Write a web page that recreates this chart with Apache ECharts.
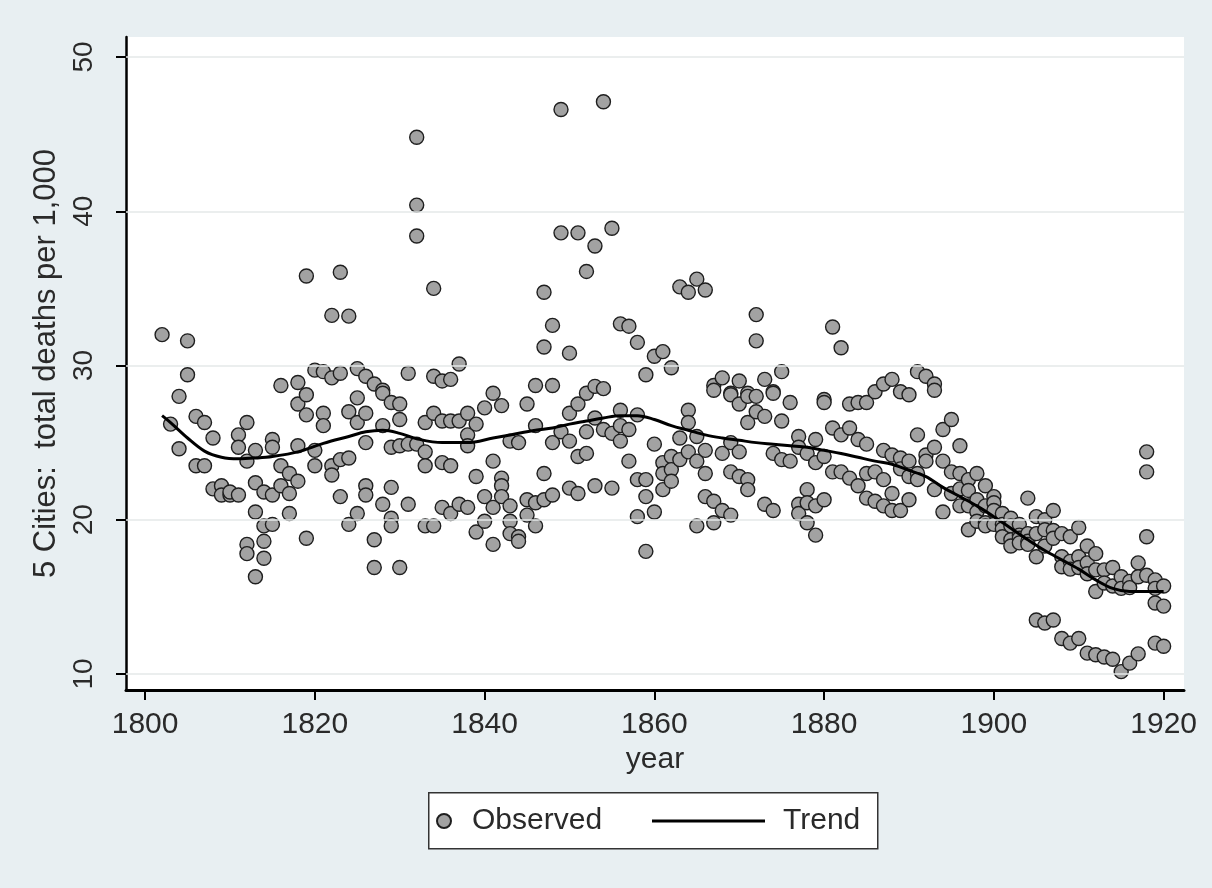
<!DOCTYPE html>
<html>
<head>
<meta charset="utf-8">
<script src="https://cdn.jsdelivr.net/npm/echarts@6/dist/echarts.min.js"></script>
<style>
  html, body { margin: 0; padding: 0; background: #e8eff2; }
  #chart { width: 1212px; height: 888px; }
</style>
</head>
<body>
<div id="chart"></div>
<script>
// ---- data ----
const obsYears = [
  1802,1803,1804,1805,1806,1807,1808,1809,1810,1811,1812,1813,1814,1815,1816,1817,1818,1819,1820,
  1821,1822,1823,1824,1825,1826,1827,1828,1829,1830,1831,1832,1833,1834,1835,1836,1837,1838,1839,1840,
  1841,1842,1843,1844,1845,1846,1847,1848,1849,1850,1851,1852,1853,1854,1855,1856,1857,1858,1859,1860,
  1861,1862,1863,1864,1865,1866,1867,1868,1869,1870,1871,1872,1873,1874,1875,1876,1877,1878,1879,1880,
  1881,1882,1883,1884,1885,1886,1887,1888,1889,1890,1891,1892,1893,1894,1895,1896,1897,1898,1899,1900,
  1901,1902,1903,1904,1905,1906,1907,1908,1909,1910,1911,1912,1913,1914,1915,1916,1917,1918,1919,1920
];
const obsValues = [
  [32.0],[26.2],[28.0,24.6],[31.6,29.4],[26.7,23.5],[26.3,23.5],[25.3,22.0],[22.2,21.6],[21.6,21.8],
  [25.5,24.7,21.6],[26.3,23.8,18.4,17.8],[24.5,22.4,20.5,16.3],[21.8,19.6,18.6,17.5],[25.2,24.7,21.6,19.7],
  [28.7,23.5,22.2],[23.0,21.7,20.4],[28.9,27.5,24.8,22.5],[35.8,28.1,26.8,18.8],[29.7,24.5,23.5],
  [29.6,26.9,26.1],[33.25,29.2,23.5,22.9],[36.05,29.5,23.9,21.5],[33.2,27.0,24.0,19.7],[29.8,27.9,26.3,20.4],
  [29.3,26.9,25.0,22.2,21.6],[28.8,18.7,16.9],[28.4,28.2,26.1,21.0],[27.6,24.7,22.1,20.1,19.6],[27.5,26.5,24.8,16.9],
  [29.5,24.9,21.0],[44.8,40.4,38.4,24.9],[26.3,24.4,23.5,19.6],[35.0,29.3,26.9,19.6],[29.0,26.4,23.7,20.8],
  [29.1,26.4,23.5,20.4],[30.1,26.4,21.0],[26.9,25.5,24.8,20.8],[26.2,22.8,19.2],[27.25,21.5,19.9],
  [28.2,23.8,20.8,18.4],[27.4,22.7,22.2,21.5],[25.1,20.9,19.9,19.1],[25.0,18.9,18.6],[27.5,21.3,20.3],
  [28.7,26.1,21.1,19.6],[34.75,31.2,23.0,21.3],[32.6,28.7,25.0,21.6],[46.6,38.6,25.7],[30.8,26.9,25.1,22.05],
  [38.6,27.5,24.1,21.7],[36.1,28.2,25.7,24.3],[37.75,28.65,26.6,22.2],[47.1,28.5,25.85],[38.9,25.6,22.05],
  [32.7,27.1,26.1,25.1],[32.55,25.85,23.8],[31.5,26.8,22.6,20.2],[29.4,22.6,21.5,17.95],[30.6,24.9,20.5],
  [30.9,23.7,23.0,21.95],[29.85,24.1,23.25,22.5],[35.1,25.3,23.9],[34.75,27.1,26.3,24.4],[35.6,25.4,23.8,19.6],
  [34.9,24.5,23.0,21.5],[28.7,28.4,21.2,19.8],[29.2,24.3,20.6],[28.2,28.1,25.0,23.1,20.3],[29.0,27.5,24.4,22.8],
  [28.2,28.0,26.3,22.6,21.95],[33.3,31.6,28.0,27.0],[29.1,26.7,21.0],[28.3,28.2,24.3,20.6],[29.6,26.4,23.9],
  [27.6,23.8],[25.4,24.7,21.0,20.4],[24.3,21.95,21.1,19.8],[25.2,23.7,20.9,19.0],[27.8,27.6,24.1,21.3],
  [32.5,25.95,23.1],[31.15,25.5,23.1],[27.5,25.95,22.7],[27.6,25.2,22.2],[27.6,24.9,23.0,21.4],
  [28.3,23.1,21.2],[28.8,24.5,22.6,20.9],[29.1,24.2,21.7,20.6],[28.3,24.0,23.3,20.6],[28.1,23.8,22.8,21.3],
  [29.6,25.5,23.0,22.6],[29.3,24.2,23.8],[28.8,28.4,24.7,21.95],[25.85,23.8,20.5],[26.5,23.1,21.7],
  [24.8,23.0,22.0,20.9],[22.6,21.9,20.9,19.35],[23.0,21.3,20.5,19.9],[22.2,20.9,19.8,19.6],[21.5,21.1,20.6,19.7],
  [20.4,19.7,19.4,18.9],[20.1,19.6,18.7,18.3],[19.7,19.0,18.8,18.5],[21.4,19.1,18.6,18.4],[20.2,19.1,17.6,13.5],
  [20.0,19.35,18.3,13.3],[20.6,19.3,18.8,13.5],[19.1,17.6,16.95,12.3],[18.9,17.3,16.8,12.0],[19.5,17.6,16.9,12.3],
  [18.3,17.2,16.5,11.35],[17.8,16.75,15.35,11.25],[16.75,15.9,11.1],[16.9,15.7,10.95],[16.3,15.55,10.15],
  [16.0,15.6,10.7],[17.2,16.3,11.3],[24.4,23.1,18.9,16.4],[16.1,15.55,14.6,12.0],[15.7,14.4,11.8]
];
const trendYears = [1802,1803,1805,1807,1809,1811,1813,1815,1818,1821,1824,1826,1828,1830,1832,1835,1838,1841,1843,1846,1848,1850,1852,1854,1856,1858,1860,1862,1864,1866,1868,1870,1872,1874,1876,1878,1880,1882,1884,1886,1888,1890,1892,1894,1896,1898,1900,1902,1904,1906,1908,1910,1912,1914,1916,1918,1920];
const trendValues = [26.75,26.3,25.3,24.45,24.05,23.95,24.0,24.1,24.4,24.95,25.4,25.7,25.8,25.6,25.25,25.0,25.0,25.3,25.5,25.8,25.95,26.2,26.4,26.6,26.75,26.75,26.5,26.1,25.8,25.5,25.3,25.15,25.0,24.9,24.8,24.7,24.5,24.3,24.05,23.8,23.6,23.2,22.8,22.1,21.5,20.9,20.2,19.45,18.7,18.0,17.4,16.8,16.1,15.55,15.35,15.35,15.35];
const xTicks = [1800, 1820, 1840, 1860, 1880, 1900, 1920];
const yTicks = [10, 20, 30, 40, 50];

// ---- build series data ----
const scatterData = [];
obsYears.forEach((yr, i) => obsValues[i].forEach(v => scatterData.push([yr, v])));
const trendData = trendYears.map((yr, i) => [yr, trendValues[i]]);

const FONT = "'Liberation Sans', Arial, sans-serif";
const TXT = '#2a2a2a';

const chart = echarts.init(document.getElementById('chart'), null, { renderer: 'canvas' });
chart.setOption({
  backgroundColor: '#e8eff2',
  animation: false,
  textStyle: { fontFamily: FONT },
  grid: {
    left: 126, right: 28, top: 37, bottom: 198,
    show: true, backgroundColor: '#ffffff', borderWidth: 0
  },
  xAxis: {
    type: 'value', min: 1797.75, max: 1922.4,
    name: 'year', nameLocation: 'middle', nameGap: 52,
    nameTextStyle: { fontSize: 30, color: TXT, fontFamily: FONT },
    axisLine: { onZero: false, lineStyle: { color: '#000', width: 3 } },
    axisTick: { show: true, length: 10, inside: false, customValues: xTicks, lineStyle: { color: '#000', width: 2 } },
    axisLabel: { customValues: xTicks, fontSize: 30, color: TXT, margin: 20, fontFamily: FONT,
                 formatter: v => String(Math.round(v)) },
    splitLine: { show: false }
  },
  yAxis: {
    type: 'value', min: 8.96, max: 51.3,
    name: '5 Cities:  total deaths per 1,000', nameLocation: 'middle', nameGap: 48,
    nameTextStyle: { fontSize: 31, color: TXT, fontFamily: FONT },
    axisLine: { show: true, onZero: false, lineStyle: { color: '#000', width: 2.5 } },
    axisTick: { show: true, length: 10, customValues: yTicks, lineStyle: { color: '#000', width: 2 } },
    axisLabel: { customValues: yTicks, rotate: 90, fontSize: 28, color: TXT, margin: 28, fontFamily: FONT,
                 formatter: v => String(Math.round(v)) },
    splitLine: { show: false }
  },
  legend: [
    {
      data: ['Observed'], left: 436, top: 806, padding: 0,
      itemWidth: 26, itemHeight: 14, z: 10,
      textStyle: { fontSize: 30, color: TXT, fontFamily: FONT, padding: [0, 0, 0, 10] }
    },
    {
      data: [{ name: 'Trend', icon: 'path://M0,0 L113,0 L113,3 L0,3 Z', itemStyle: { color: '#000' } }],
      left: 652, top: 806, padding: 0,
      itemWidth: 113, itemHeight: 3, z: 10,
      textStyle: { fontSize: 30, color: TXT, fontFamily: FONT, padding: [0, 0, 0, 13] }
    }
  ],
  graphic: [
    {
      type: 'rect', left: 428, top: 792, z: 5,
      shape: { width: 449, height: 56 },
      style: { fill: '#ffffff', stroke: '#333333', lineWidth: 1.5 }
    }
  ],
  series: [
    {
      name: 'grid', type: 'scatter', data: [], z: 1, silent: true,
      markLine: {
        silent: true, symbol: ['none', 'none'], label: { show: false },
        lineStyle: { color: '#e4e9e9', width: 1.5, type: 'solid' },
        data: yTicks.map(v => ({ yAxis: v }))
      }
    },
    {
      name: 'Observed', type: 'scatter', data: scatterData, z: 2,
      symbol: 'circle', symbolSize: 14,
      itemStyle: { color: '#a2a2a2', borderColor: '#1e1e1e', borderWidth: 1.4, opacity: 1 }
    },
    {
      name: 'Trend', type: 'line', data: trendData, z: 3,
      smooth: 0.35, symbol: 'none', showSymbol: false,
      lineStyle: { color: '#000', width: 3 },
      itemStyle: { color: '#000' }
    }
  ]
});
</script>
</body>
</html>
